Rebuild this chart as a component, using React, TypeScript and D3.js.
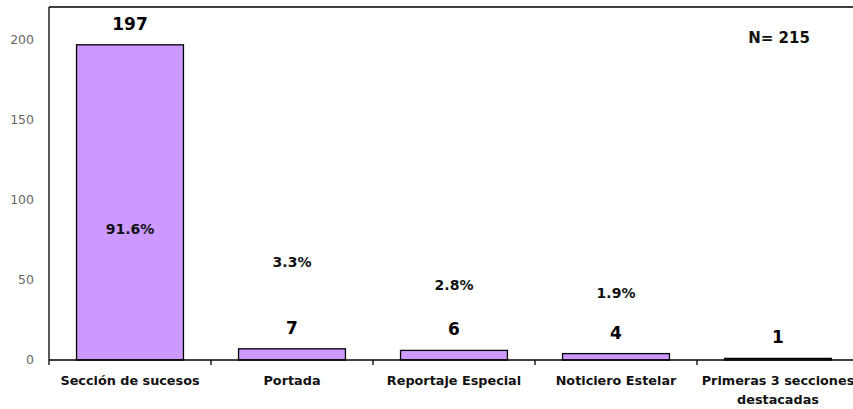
import React from "react";
import * as d3 from "d3";

const categories: string[][] = [
  ["Sección de sucesos"],
  ["Portada"],
  ["Reportaje Especial"],
  ["Noticiero Estelar"],
  ["Primeras 3 secciones", "destacadas"],
];
const counts = [197, 7, 6, 4, 1];
const percentLabels = ["91.6%", "3.3%", "2.8%", "1.9%", ""];
const percentLabelAt = [82, 61, 47, 42, 0];
const yTicks = [0, 50, 100, 150, 200];
const totalLabel = "N= 215";

const W = 853;
const H = 409;
const M = { left: 49, top: 7, right: 859, bottom: 360 };
const FONT = "'DejaVu Sans', Verdana, sans-serif";

export default function App() {
  const x = d3
    .scaleBand<number>()
    .domain(counts.map((_, i) => i))
    .range([M.left, M.right])
    .paddingInner(0.34)
    .paddingOuter(0.17);
  const step = x.step();
  const y = d3.scaleLinear().domain([0, 200]).range([M.bottom, M.bottom - 320]);

  return (
    <svg
      width={W}
      height={H}
      style={{ position: "absolute", left: 0, top: 0, background: "#fff" }}
      fontFamily={FONT}
    >
      <line x1={M.left} x2={W} y1={M.top} y2={M.top} stroke="#000" strokeWidth={1.3} />
      <line x1={M.left} x2={M.left} y1={M.top} y2={M.bottom} stroke="#000" strokeWidth={1.3} />
      {yTicks.map((t) => (
        <text
          key={t}
          x={34}
          y={y(t)}
          dy="0.35em"
          textAnchor="end"
          fontSize={12.5}
          fill="#666"
        >
          {t}
        </text>
      ))}
      {counts.map((v, i) => {
        const bx = x(i)!;
        const bw = x.bandwidth();
        const cx = bx + bw / 2;
        return (
          <g key={i}>
            <rect
              x={bx}
              y={y(v)}
              width={bw}
              height={y(0) - y(v)}
              fill="#CC99FF"
              stroke="#000"
              strokeWidth={1.3}
            />
            <text
              x={cx}
              y={y(v) - 21}
              dy="0.35em"
              textAnchor="middle"
              fontSize={17}
              fontWeight="bold"
              fill="#000"
            >
              {v}
            </text>
            {percentLabels[i] && (
              <text
                x={cx}
                y={y(percentLabelAt[i])}
                dy="0.35em"
                textAnchor="middle"
                fontSize={14}
                fontWeight="bold"
                fill="#111"
              >
                {percentLabels[i]}
              </text>
            )}
            {categories[i].map((line, j) => (
              <text
                key={j}
                x={cx}
                y={381 + j * 19}
                dy="0.35em"
                textAnchor="middle"
                fontSize={12.8}
                fontWeight="bold"
                fill="#111"
              >
                {line}
              </text>
            ))}
          </g>
        );
      })}
      <line x1={M.left} x2={W} y1={M.bottom} y2={M.bottom} stroke="#000" strokeWidth={1.3} />
      {d3.range(counts.length + 1).map((i) => (
        <line
          key={i}
          x1={M.left + i * step}
          x2={M.left + i * step}
          y1={M.bottom}
          y2={M.bottom + 5}
          stroke="#000"
          strokeWidth={1.3}
        />
      ))}
      <text x={779} y={38} dy="0.35em" textAnchor="middle" fontSize={15} fontWeight="bold" fill="#111">
        {totalLabel}
      </text>
    </svg>
  );
}
